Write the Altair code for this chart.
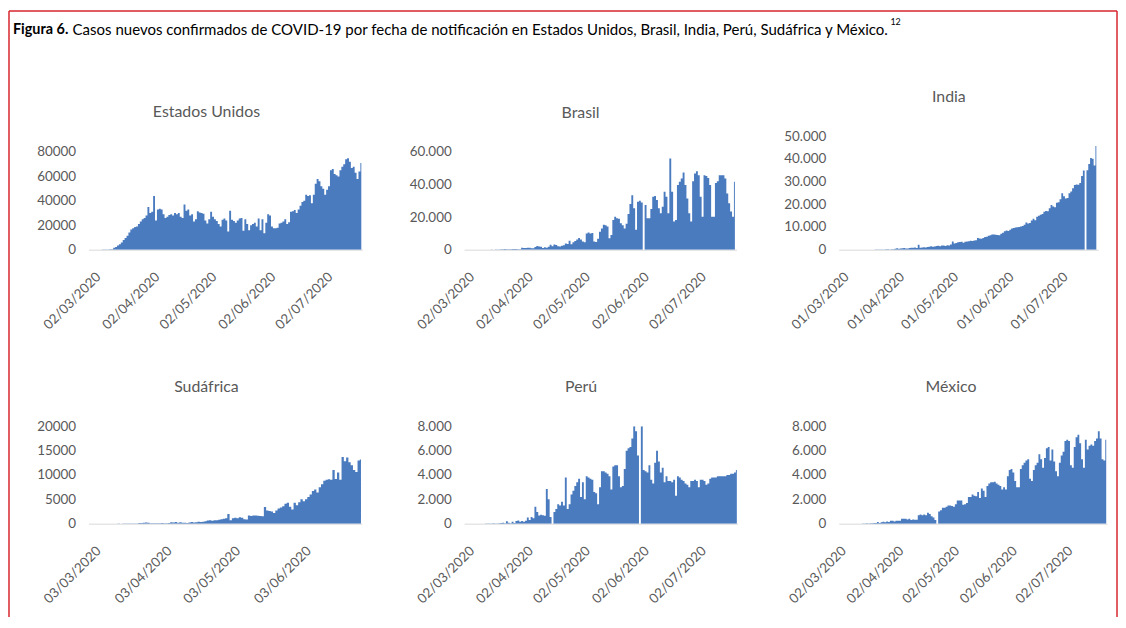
import altair as alt
import pandas as pd

FONT = "Lato"
GREY = "#595959"
BLUE = "#4a7bbf"
RED = "#d7262e"
DAY = 86400000

header_bold = "Figura 6."
header_text = ("Casos nuevos confirmados de COVID-19 por fecha de notificación en "
               "Estados Unidos, Brasil, India, Perú, Sudáfrica y México.")
header_sup = "12"

# ---------------- data (daily new cases) ----------------
us_start = "2020-02-29"
us_cases = [
    0, 0, 10, 20, 20, 30, 50, 70, 120, 150, 250, 300,
    350, 1500, 2200, 3500, 4500, 6000, 8000, 9500,
    11500, 14000, 16500, 17500, 18500, 19000, 21000, 23000, 25000, 26000,
    28000, 35000, 30000, 31000, 44000, 24000, 33000, 33500, 33000, 29000,
    26000, 27000, 28500, 29000, 28000, 30000, 29000, 30000, 27000, 26000,
    37000, 32000, 33000, 28000, 29000, 23000, 25000, 31500, 30500, 30000,
    29500, 24000, 21500, 25000, 31000, 27000, 25000, 23500, 21000, 19000,
    24500, 25500, 24000, 15000, 32000, 24500, 23500, 22000, 24000, 25500,
    26000, 15500, 25000, 21000, 16000, 20000, 21000, 22000, 19000, 25500,
    16000, 25000, 13500, 22000, 29000, 28000, 19000, 17500, 17500, 18000,
    21500, 22000, 23000, 25000, 21000, 22500, 31000, 31500, 32500, 30000,
    33000, 36000, 39000, 40000, 45000, 44000, 44500, 38000, 45000, 54000,
    58000, 56000, 52000, 50000, 45000, 49000, 52000, 65000, 66000, 62000,
    61000, 60000, 65000, 68000, 70000, 74000, 75000, 72000, 67000, 68000,
    63000, 58000, 64000, 71000,
]

br_start = "2020-03-01"
br_cases = [
    0, 0, 0, 0, 0, 0, 0, 0, 0, 0, 20, 30, 20, 40, 80, 30, 60, 140, 190, 280,
    220, 420, 350, 310, 230, 480, 500, 490,
    350, 320, 1140, 1120, 1070, 1150, 1220, 850, 930, 1660, 2210, 1930, 1780, 1090,
    1440, 1260, 1830, 3060, 2100, 3260, 2920, 2050, 1930, 2500, 2680, 3740, 3500, 5500,
    3380, 4610, 5390, 6280, 7220, 6210, 4970, 4590,
    10000, 10500, 9900, 10200, 5000, 4800, 6800,
    11000, 13000, 15300, 15000, 14200, 7000, 9000,
    18300, 20300, 19300, 19000, 16300, 15000, 13000,
    16000, 22000, 28000, 33500, 25400, 12200, 29500,
    30000, 29000, 0, 27500, 19300, 19300, 25000,
    32500, 33000, 30500, 25400, 22400, 26400, 35600,
    32500, 22400, 56000, 35600, 17300, 18300, 39700,
    41700, 43700, 47400, 39700, 31500, 22400, 17300,
    42100, 46800, 48200, 45800, 32500, 20300, 45800,
    45200, 44000, 39700, 20300, 20300, 41000, 42000,
    45800, 45800, 45800, 43700, 34500, 28500, 23400, 20300, 41700,
]

in_start = "2020-02-29"
in_cases = [
    0, 0, 1, 2, 0, 22, 2, 1, 3, 5, 9, 15, 6, 10, 10, 13, 14, 11, 23, 25,
    50, 90, 60, 80, 100, 75, 150, 160, 100, 190, 230,
    400, 600, 450, 500, 600, 700, 500, 550, 750, 850, 900, 1000, 800, 2200,
    900, 1000, 1100, 1000, 1200, 1300, 1500, 1300, 1400, 1600, 1700, 1500, 1800,
    1900, 1600, 2000, 1800, 2300,
    3600, 2700, 3000, 3300, 3400, 3500, 3100, 3500, 3600, 3700, 3900, 3800, 4000, 4200,
    5200, 4900, 4800, 5200, 5600, 5700, 6100, 6400, 6700, 6700, 6600, 6500, 6400,
    7000, 7500, 8100, 8400, 8200, 8800, 9300, 9500, 9800, 9900, 10000, 10200, 10400,
    11000, 12000, 11500, 11800, 12900, 13600, 13000, 14500, 14900, 15400, 15700,
    16700, 17000,
    16900, 18200, 19700, 19000, 18700, 20700, 20900, 22200, 24800, 23500, 22500,
    22800, 24900,
    25600, 27100, 28500, 28700, 28600, 29400, 32500, 34900, 0, 35000, 37700, 40400,
    40000, 37100, 45700,
]

sa_start = "2020-03-02"
sa_cases = [
    0, 0, 0, 1, 0, 0, 1, 3, 3, 6, 0, 7, 13, 0, 24, 11, 34, 31, 52, 54,
    38, 128, 155, 193, 218, 173, 80, 90, 63, 67, 82,
    136, 90, 100, 150, 300, 250, 350, 180, 300, 180, 200, 150, 250, 350, 250, 300,
    400, 320, 400, 500,
    650, 700, 600, 680, 700, 800, 900, 1000, 1100, 2000,
    700, 1100, 1200, 1100, 1300, 1200, 900, 850, 1700, 1600, 1700, 1700, 1650, 1600, 1500,
    3400, 2700, 2600, 2500, 2200, 2700, 3100, 3300, 3600, 4100, 4300, 3500, 2900, 4300, 3800,
    4400, 5000, 4600, 5000, 5500, 6000, 6700, 7000, 6400, 7500, 8100, 8800, 9000, 9100, 9000,
    11000, 9200, 10500, 9000, 13700, 12800, 13600, 12600, 12000, 11000, 10600, 13000, 13200,
]

pe_start = "2020-03-01"
pe_cases = [
    0, 0, 0, 0, 0, 1, 0, 0, 3, 2, 2, 6, 5, 11, 16,
    28, 10, 15, 30, 60, 80, 40, 190, 70, 30, 150, 60, 220,
    260, 150, 220, 150, 250, 500, 300, 550, 450, 1400, 950, 680, 730, 700, 650, 2850, 2000, 540,
    0, 950, 1200, 1600, 1500, 1800, 1500, 3800, 1200, 1600, 2400, 2700, 3100, 3400, 3700,
    2200, 3400, 2000, 3900, 3800, 3700, 3600, 2600, 2500, 1600, 3000, 4300, 4300, 4200, 4100,
    3900, 2800, 4700, 4800, 4800, 3900, 3000, 3100, 4500, 6000, 6200, 6300, 7000, 8000, 7600,
    5600, 0, 8000, 4400, 4300, 4200, 4800, 3600, 3300, 5000, 6000, 5100, 4200, 4600, 3400,
    3900, 3500, 3500, 3400, 3600, 2300, 3900, 3800, 3600, 3500, 3300, 3200, 3000, 3500, 3500,
    3600, 3500, 3000, 3600, 3600, 3500, 3200, 3300, 3700, 3800, 3800, 3800, 3900, 3900, 3900,
    3900, 3900, 4000, 4000, 4100, 4100, 4200, 4400,
]

mx_start = "2020-03-01"
mx_cases = [
    0, 0, 0, 0, 0, 0, 2, 0, 0, 0, 0, 3, 4, 4, 15, 12, 29, 11, 43, 35, 46,
    47, 140, 60, 120, 150, 120, 170, 140, 250, 250, 180, 250, 250, 250,
    400, 400, 400, 350, 400, 300, 350, 320, 330, 700, 750, 700, 750, 700, 900,
    800, 600, 500, 300, 0, 1000, 1100, 1300, 1300, 1400, 1500, 1500, 1450, 1400, 1600,
    1900, 1900, 1900, 1550, 1600, 1700, 2200, 2200, 2400, 2300, 2250, 2600, 2100, 2900, 2700,
    2200, 3100, 3300, 3400, 3400, 3450, 3300, 3200, 3100, 2800, 3000, 2800, 3900, 4400, 4500,
    4200, 3500, 3000, 3000, 4500, 4800, 5000, 5200, 5300, 3700, 3500, 4400, 4800, 5000, 5700,
    5300, 4600, 5400, 6200, 6300, 5200, 6100, 5100, 4300, 3900, 5000, 5600, 5900, 6800, 6900,
    6800, 4800, 4600, 6300, 7100, 7300, 6600, 5300, 4600, 6900, 6100, 6400, 6500, 6400, 6800,
    7000, 7600, 7000, 5300, 5200, 6900,
]

ticks_02 = ["2020-03-02", "2020-04-02", "2020-05-02", "2020-06-02", "2020-07-02"]
ticks_01 = ["2020-03-01", "2020-04-01", "2020-05-01", "2020-06-01", "2020-07-01"]
ticks_03 = ["2020-03-03", "2020-04-03", "2020-05-03", "2020-06-03"]


def ms(s):
    return int(pd.Timestamp(s).value // 10**6)


def frame(start, values):
    # one row per day, positioned at the middle of that day
    t0 = ms(start) + DAY // 2
    n = len(values)
    return pd.DataFrame({
        "d": [t0 + i * DAY for i in range(n)],
        "v": values,
    })


def panel(name, start, values, dom_start, dom_days, width, height, ymax,
          yvals, dots, xticks, tx, ty, extra=None):
    df = frame(start, values)
    d0 = ms(dom_start)
    xs = alt.Scale(type="utc", domain=[d0, d0 + int(dom_days * DAY)], nice=False)
    ylab = ("replace(format(datum.value, ','), ',', '.')" if dots
            else "format(datum.value, 'd')")
    bars = alt.Chart(df).mark_area(
        color=BLUE, interpolate="step", clip=True, opacity=1
    ).encode(
        x=alt.X("d:T", scale=xs, axis=alt.Axis(
            values=[ms(t) + DAY // 2 for t in xticks],
            labelExpr="utcFormat(datum.value, '%d/%m/%Y')",
            labelAngle=-45, labelAlign="right", labelBaseline="top",
            labelPadding=20, ticks=False, grid=False, domainColor="#d9d9d9",
            title=None, labelFont=FONT, labelFontSize=13.5, labelColor=GREY,
            labelOverlap=False, labelFlush=False)),
        y=alt.Y("v:Q", scale=alt.Scale(domain=[0, ymax], nice=False, zero=True),
                axis=alt.Axis(values=yvals, labelExpr=ylab, ticks=False,
                              domain=False, grid=False, title=None,
                              labelPadding=13, labelFont=FONT,
                              labelFontSize=13.5, labelColor=GREY)),
    )
    ttl = alt.Chart(pd.DataFrame({"t": [name]})).mark_text(
        font=FONT, fontSize=16, color=GREY, align="center", baseline="middle"
    ).encode(text="t:N", x=alt.value(tx), y=alt.value(ty))
    layers = [bars, ttl] + (extra or [])
    return alt.layer(*layers).properties(width=width, height=height)


one = pd.DataFrame({"a": [0]})
frame_left = alt.Chart(one).mark_rule(color=RED, strokeWidth=1.5).encode(
    x=alt.value(-80), y=alt.value(-126), y2=alt.value(484))
frame_right = alt.Chart(one).mark_rule(color=RED, strokeWidth=1.5).encode(
    x=alt.value(1035), y=alt.value(-126), y2=alt.value(484))
frame_top = alt.Chart(one).mark_rule(color=RED, strokeWidth=1.5).encode(
    x=alt.value(-80), x2=alt.value(1035), y=alt.value(-126))
hdr_b = alt.Chart(pd.DataFrame({"t": [header_bold]})).mark_text(
    font=FONT, fontSize=14.5, fontWeight="bold", color="black",
    align="left", baseline="middle"
).encode(text="t:N", x=alt.value(-76), y=alt.value(-107))
hdr_n = alt.Chart(pd.DataFrame({"t": [header_text]})).mark_text(
    font=FONT, fontSize=15.1, color="black", align="left", baseline="middle"
).encode(text="t:N", x=alt.value(-16), y=alt.value(-107))
hdr_s = alt.Chart(pd.DataFrame({"t": [header_sup]})).mark_text(
    font=FONT, fontSize=9, color="black", align="left", baseline="middle"
).encode(text="t:N", x=alt.value(807), y=alt.value(-115))

H1 = 114.3
H2 = 98

us = panel("Estados Unidos", us_start, us_cases, "2020-02-29", 144.0, 275.5, H1,
           80000 * H1 / 98.3, [0, 20000, 40000, 60000, 80000], False, ticks_02,
           118.7, -24, [frame_left, frame_right, frame_top, hdr_b, hdr_n, hdr_s])
br = panel("Brasil", br_start, br_cases, "2020-03-01", 143.3, 274, H1,
           60000 * H1 / 98.3, [0, 20000, 40000, 60000], True, ticks_02,
           117.2, -23)
ind = panel("India", in_start, in_cases, "2020-02-29", 144.5, 261, H1,
            50000, [0, 10000, 20000, 30000, 40000, 50000], True, ticks_01,
            110.8, -39)
sa = panel("Sudáfrica", sa_start, sa_cases, "2020-03-01 06:00", 119.6, 275, H2,
           20000, [0, 5000, 10000, 15000, 20000], False, ticks_03,
           118.7, -39.6)
pe = panel("Perú", pe_start, pe_cases, "2020-03-01", 143.8, 275, H2,
           8000, [0, 2000, 4000, 6000, 8000], True, ticks_02,
           117.7, -39.6)
mx = panel("México", mx_start, mx_cases, "2020-03-02 11:00", 144.5, 270, H2,
           8000, [0, 2000, 4000, 6000, 8000], True, ticks_02,
           113, -39.6)

chart = alt.concat(
    us, br, ind, sa, pe, mx,
    columns=3, spacing={"row": 177, "column": 102},
    bounds="flush", align="none",
).properties(padding=0, background="white").configure_view(stroke=None)

chart.save("out.html", embed_options={"renderer": "svg", "actions": False})
